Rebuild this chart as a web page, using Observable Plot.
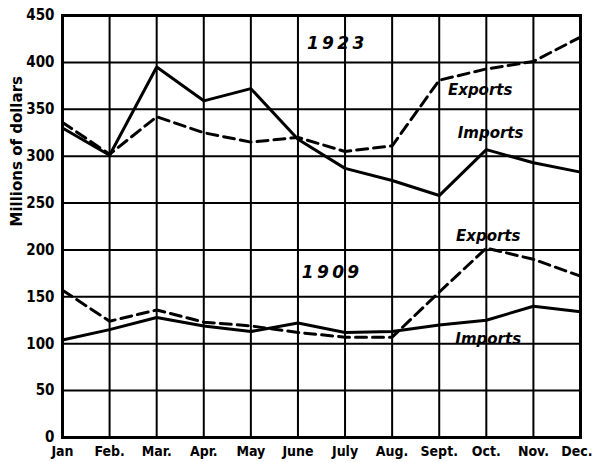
<!DOCTYPE html>
<html>
<head>
<meta charset="utf-8">
<script src="https://cdn.jsdelivr.net/npm/d3@7"></script>
<script src="https://cdn.jsdelivr.net/npm/@observablehq/plot@0.6"></script>
<style>
  html, body { margin: 0; padding: 0; background: #fff; }
  #chart svg { display: block; }
</style>
</head>
<body>
<div id="chart"></div>
<script>
const months = ["Jan", "Feb.", "Mar.", "Apr.", "May", "June", "July", "Aug.", "Sept.", "Oct.", "Nov.", "Dec."];
const yTicks = [0, 50, 100, 150, 200, 250, 300, 350, 400, 450];
const yTitle = "Millions of dollars";

const exports1923 = [336, 302, 342, 325, 315, 320, 305, 311, 381, 393, 401, 427];
const imports1923 = [330, 301, 395, 359, 372, 318, 287, 274, 258, 307, 293, 283];
const exports1909 = [157, 124, 136, 123, 119, 112, 107, 107, 155, 202, 190, 172];
const imports1909 = [104, 115, 128, 119, 113, 122, 112, 113, 120, 125, 140, 134];

const labelText = ["1923", "Exports", "Imports", "Exports", "1909", "Imports"];
const labelMonth = [5.8, 8.87, 9.09, 9.04, 5.69, 9.04];
const labelValue = [420, 370, 324, 215, 176, 105];

const seriesList = [
  {name: "Exports 1923", values: exports1923, dashed: true},
  {name: "Imports 1923", values: imports1923, dashed: false},
  {name: "Exports 1909", values: exports1909, dashed: true},
  {name: "Imports 1909", values: imports1909, dashed: false}
];
const rows = seriesList.flatMap(s => s.values.map((v, i) => ({series: s.name, month: i, value: v, dashed: s.dashed})));
const labels = labelText.map((t, i) => ({text: t, month: labelMonth[i], value: labelValue[i], year: /^\d+$/.test(t)}));

const cond = "'DejaVu Sans Condensed', 'DejaVu Sans', sans-serif";
const wide = "'DejaVu Sans', sans-serif";

const chart = Plot.plot({
  width: 592,
  height: 462,
  marginLeft: 62,
  marginRight: 12,
  marginTop: 15,
  marginBottom: 25,
  style: {fontFamily: cond, fontSize: "15px", fontWeight: "bold", color: "#000", background: "#fff"},
  x: {type: "linear", domain: [0, 11]},
  y: {domain: [0, 450]},
  marks: [
    Plot.gridX(d3.range(12), {stroke: "#000", strokeOpacity: 1, strokeWidth: 2}),
    Plot.gridY(yTicks, {stroke: "#000", strokeOpacity: 1, strokeWidth: 2}),
    Plot.frame({stroke: "#000", strokeWidth: 3}),
    Plot.axisX(d3.range(11), {tickSize: 0, tickPadding: 9, tickFormat: i => months[i], label: null, fontSize: 14}),
    Plot.axisX([11], {tickSize: 0, tickPadding: 9, tickFormat: i => months[i], label: null, fontSize: 14, textAnchor: "end", dx: 12}),
    Plot.axisY(yTicks, {tickSize: 0, tickPadding: 8, label: null, fontSize: 15}),
    Plot.text([yTitle], {frameAnchor: "left", rotate: -90, dx: -45, fontSize: 15, fontFamily: wide, fontWeight: "bold"}),
    Plot.line(rows.filter(d => !d.dashed), {x: "month", y: "value", z: "series", stroke: "#000", strokeWidth: 3, strokeLinejoin: "miter"}),
    Plot.line(rows.filter(d => d.dashed), {x: "month", y: "value", z: "series", stroke: "#000", strokeWidth: 3, strokeDasharray: "11,6"}),
    Plot.text(labels.filter(d => !d.year), {x: "month", y: "value", text: "text", fontSize: 15, fontFamily: wide, fontStyle: "italic", fontWeight: "bold", fill: "#000"}),
    Plot.text(labels.filter(d => d.year), {x: "month", y: "value", text: d => d.text.split("").join("\u2009"), fontSize: 17, fontFamily: wide, fontStyle: "italic", fontWeight: "bold", fill: "#000"})
  ]
});
document.getElementById("chart").appendChild(chart);
</script>
</body>
</html>
